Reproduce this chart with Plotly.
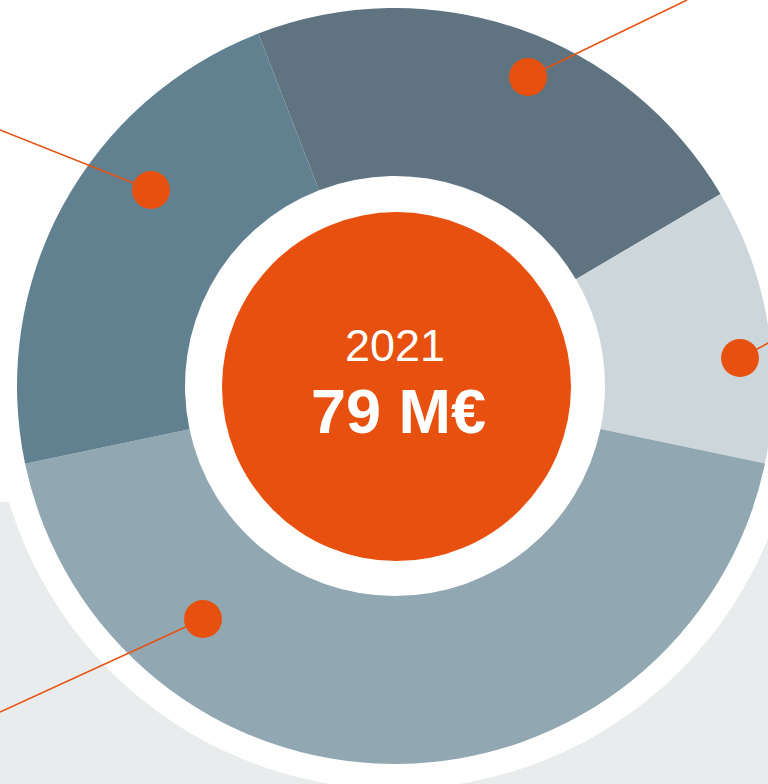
import plotly.graph_objects as go

# ---- data (M€, 2021) ----
segments = ["Segment A", "Segment B", "Segment C", "Segment D"]
values_meur = [17.7, 9.3, 34.3, 17.7]
year_label = "2021"
total_label = "79 M€"

# ---- styling ----
seg_colors = ["#5f7480", "#cdd6db", "#91a7b1", "#628190"]
ORANGE = "#e8500f"
GRAY_BG = "#e8ecec"
W, H = 776, 784          # figure is slightly wider than the window; the right edge is clipped

# donut geometry (pixels)
CX, CY, R = 395, 386, 378
HOLE = 210 / R

def px(x, y):
    return x / W, 1 - y / H

# callout dots (pixel centre) and line end points (pixel)
callout_dots = [(528, 77), (151, 190), (740, 358), (203, 619)]
callout_ends = [(687, 0), (0, 130), (776, 339), (0, 712)]
DOT_R = 19

fig = go.Figure()
fig.add_trace(go.Pie(
    labels=segments,
    values=values_meur,
    sort=False,
    direction="clockwise",
    rotation=-21.2,
    hole=HOLE,
    marker=dict(colors=seg_colors, line=dict(width=0)),
    textinfo="none",
    hoverinfo="label+value",
    showlegend=False,
    domain=dict(x=[(CX - R) / W, (CX + R) / W], y=[1 - (CY + R) / H, 1 - (CY - R) / H]),
))

shapes = []
# gray background band + white halo around the donut
x0, y0 = px(0, 502)
x1, y1 = px(W, H)
shapes.append(dict(type="rect", xref="paper", yref="paper", x0=x0, y0=y1, x1=x1, y1=y0,
                   fillcolor=GRAY_BG, line=dict(width=0), layer="below"))
RW = 403
a0, b0 = px(CX - RW, CY + RW)
a1, b1 = px(CX + RW, CY - RW)
shapes.append(dict(type="circle", xref="paper", yref="paper", x0=a0, y0=b0, x1=a1, y1=b1,
                   fillcolor="white", line=dict(width=0), layer="below"))
# orange centre disc
OC_X, OC_Y, OC_R = 396.5, 386.6, 174.5
a0, b0 = px(OC_X - OC_R, OC_Y + OC_R)
a1, b1 = px(OC_X + OC_R, OC_Y - OC_R)
shapes.append(dict(type="circle", xref="paper", yref="paper", x0=a0, y0=b0, x1=a1, y1=b1,
                   fillcolor=ORANGE, line=dict(width=0)))
# callout lines and dots
for (dx, dy), (ex, ey) in zip(callout_dots, callout_ends):
    p0 = px(dx, dy)
    p1 = px(ex, ey)
    shapes.append(dict(type="line", xref="paper", yref="paper", x0=p0[0], y0=p0[1], x1=p1[0], y1=p1[1],
                       line=dict(color=ORANGE, width=1.5)))
for (dx, dy) in callout_dots:
    a0, b0 = px(dx - DOT_R, dy + DOT_R)
    a1, b1 = px(dx + DOT_R, dy - DOT_R)
    shapes.append(dict(type="circle", xref="paper", yref="paper", x0=a0, y0=b0, x1=a1, y1=b1,
                       fillcolor=ORANGE, line=dict(width=0)))

ax, ay = px(395, 345)
bx, by = px(399, 411)
annotations = [
    dict(text=year_label, x=ax, y=ay, xref="paper", yref="paper", showarrow=False,
         xanchor="center", yanchor="middle",
         font=dict(family="Liberation Sans, Arial, sans-serif", size=45, color="white")),
    dict(text="<b>" + total_label + "</b>", x=bx, y=by, xref="paper", yref="paper", showarrow=False,
         xanchor="center", yanchor="middle",
         font=dict(family="Liberation Sans, Arial, sans-serif", size=63, color="white")),
]

fig.update_layout(
    width=W, height=H,
    margin=dict(l=0, r=0, t=0, b=0),
    paper_bgcolor="white", plot_bgcolor="white",
    shapes=shapes, annotations=annotations,
    showlegend=False,
)
fig.write_html(
    "out.html",
    config={"displayModeBar": False},
    post_script="document.body.style.margin='0';document.body.style.overflow='hidden';",
)
